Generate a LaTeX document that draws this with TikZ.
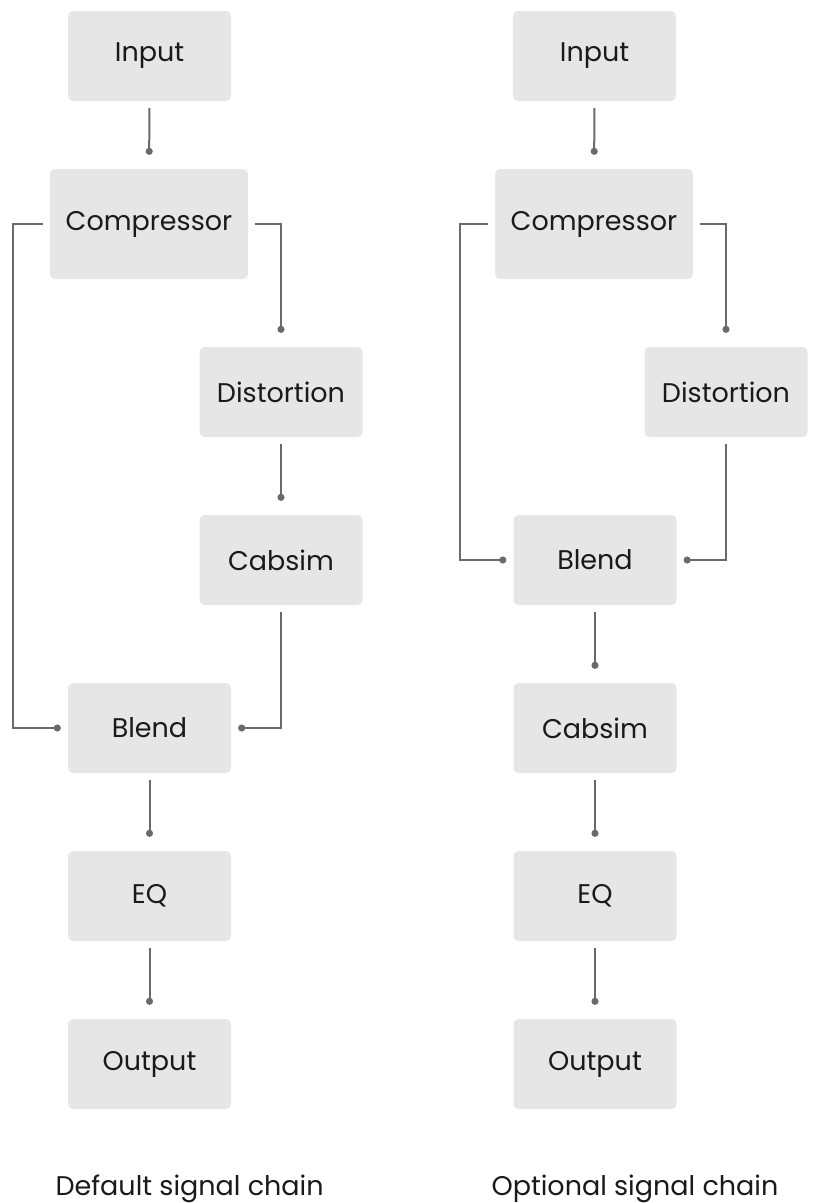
\documentclass[tikz,border=0pt]{standalone}
\usepackage{fontspec}
\setmainfont{Poppins}
\usetikzlibrary{arrows.meta}
\definecolor{boxgray}{HTML}{E6E6E6}
\definecolor{linegray}{HTML}{6A6A6A}
\definecolor{textdark}{HTML}{1A1A1A}
\tikzset{
  blk/.style={fill=boxgray, rounded corners=5pt, minimum width=163pt, minimum height=90pt,
    text=textdark, font=\fontsize{27}{30}\selectfont},
  bigblk/.style={blk, minimum width=198pt, minimum height=110pt},
  link/.style={draw=linegray, line width=2pt, -{Circle[length=7pt]}, shorten <=7pt, shorten >=14pt},
  side/.style={shorten >=7pt},
  caption/.style={anchor=base west, text=textdark, font=\fontsize{27}{30}\selectfont}
}

\begin{document}
\begin{tikzpicture}[x=1pt,y=-1pt]
    \useasboundingbox (0,0) rectangle (812,1203);
    \node[blk] (in1) at (149.5,56) {Input};
    \node[bigblk] (comp1) at (149,224) {Compressor};
    \node[blk] (dist1) at (281,392) {Distortion};
    \node[blk] (cab1) at (281,560) {Cabsim};
    \node[blk] (blend1) at (149.5,728) {Blend};
    \node[blk] (eq1) at (149.5,896) {EQ};
    \node[blk] (out1) at (149.5,1064) {Output};
    \node[caption] (cap1) at (52,1195) {Default signal chain};

    \node[blk] (in2) at (594.5,56) {Input};
    \node[bigblk] (comp2) at (594,224) {Compressor};
    \node[blk] (dist2) at (726,392) {Distortion};
    \node[blk] (blend2) at (595,560) {Blend};
    \node[blk] (cab2) at (595,728) {Cabsim};
    \node[blk] (eq2) at (595,896) {EQ};
    \node[blk] (out2) at (595,1064) {Output};
    \node[caption] (cap2) at (488,1195) {Optional signal chain};

    \draw[link] (in1) -- (comp1);
    \draw[link] (comp1.east) -| (dist1.north);
    \draw[link] (dist1) -- (cab1);
    \draw[link, side] (cab1.south) |- (blend1.east);
    \draw[link, side] (comp1.west) -- ++(-37,0) |- (blend1.west);
    \draw[link] (blend1) -- (eq1);
    \draw[link] (eq1) -- (out1);

    \draw[link] (in2) -- (comp2);
    \draw[link] (comp2.east) -| (dist2.north);
    \draw[link, side] (dist2.south) |- (blend2.east);
    \draw[link, side] (comp2.west) -- ++(-35,0) |- (blend2.west);
    \draw[link] (blend2) -- (cab2);
    \draw[link] (cab2) -- (eq2);
    \draw[link] (eq2) -- (out2);
\end{tikzpicture}
\end{document}
